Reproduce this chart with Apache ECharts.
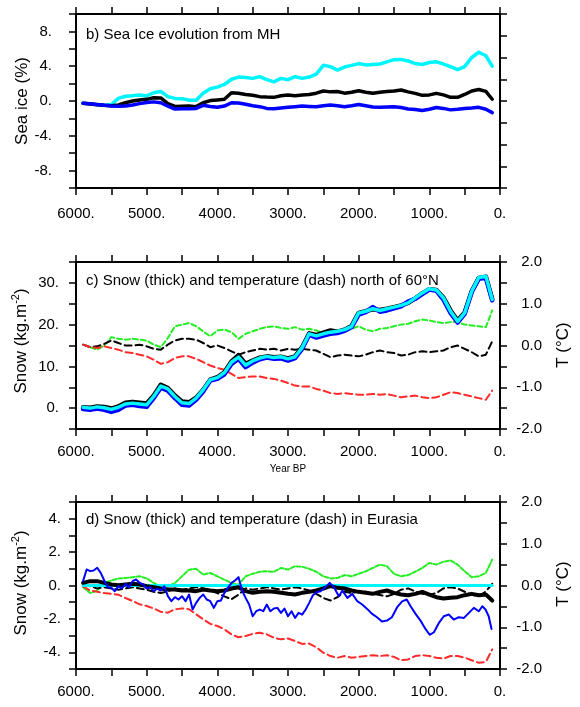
<!DOCTYPE html>
<html>
<head>
<meta charset="utf-8">
<script src="https://cdn.jsdelivr.net/npm/echarts@6/dist/echarts.min.js"></script>
<style>
  html, body { margin: 0; padding: 0; background: #fff; }
  #chart { width: 580px; height: 707px; }
</style>
</head>
<body>
<div id="chart"></div>
<script>
// Time axis (years before present), shared by most curves
const years = [5900, 5800, 5700, 5600, 5500, 5400, 5300, 5200, 5100, 5000,
  4900, 4800, 4700, 4600, 4500, 4400, 4300, 4200, 4100, 4000,
  3900, 3800, 3700, 3600, 3500, 3400, 3300, 3200, 3100, 3000,
  2900, 2800, 2700, 2600, 2500, 2400, 2300, 2200, 2100, 2000,
  1900, 1800, 1700, 1600, 1500, 1400, 1300, 1200, 1100, 1000,
  900, 800, 700, 600, 500, 400, 300, 200, 110];

// b) sea ice anomaly (%)
const seaIceCyan = [-0.27, -0.33, -0.42, -0.5, -0.4, 0.3, 0.55, 0.6, 0.68, 0.58,
  0.95, 1.1, 0.5, 0.3, 0.25, 0.1, 0.1, 0.9, 1.4, 1.6,
  1.9, 2.5, 2.75, 2.7, 2.6, 2.8, 2.45, 2.2, 2.6, 2.45,
  2.8, 2.6, 2.75, 3.1, 4.1, 3.95, 3.55, 3.9, 4.1, 4.3,
  4.15, 4.2, 4.25, 4.5, 4.75, 4.78, 4.6, 4.3, 4.2, 4.42,
  4.5, 4.25, 3.95, 3.6, 3.95, 5.0, 5.6, 5.2, 4.0];
const seaIceBlack = [-0.27, -0.35, -0.42, -0.5, -0.55, -0.45, -0.2, 0.0, 0.12, 0.19,
  0.38, 0.35, -0.3, -0.62, -0.6, -0.58, -0.65, -0.2, 0.05, 0.12,
  0.2, 0.95, 0.9, 0.75, 0.65, 0.5, 0.45, 0.42, 0.6, 0.68,
  0.6, 0.7, 0.75, 0.9, 1.15, 1.05, 1.1, 0.9, 1.0, 1.18,
  1.0, 0.88, 1.0, 1.1, 1.15, 1.27, 1.05, 0.88, 0.65, 0.7,
  0.88, 0.7, 0.42, 0.42, 0.75, 1.15, 1.32, 1.1, 0.2];
const seaIceBlue = [-0.27, -0.32, -0.4, -0.5, -0.58, -0.6, -0.58, -0.45, -0.3, -0.18,
  -0.1, -0.2, -0.6, -0.92, -0.9, -0.88, -0.85, -0.5, -0.62, -0.72,
  -0.58, -0.2, -0.22, -0.38, -0.55, -0.65, -0.85, -0.9, -0.8, -0.72,
  -0.65, -0.58, -0.62, -0.65, -0.55, -0.46, -0.55, -0.65, -0.55, -0.4,
  -0.55, -0.7, -0.72, -0.68, -0.65, -0.75, -0.92, -0.98, -1.1, -0.95,
  -0.75, -0.85, -1.02, -0.95, -0.85, -0.8, -0.73, -0.95, -1.34];

// c) north of 60N: snow (kg m-2) and temperature (degC)
const snowNCyan = [0.2, 0.0, 0.3, 0.1, -0.3, 0.2, 1.0, 1.2, 1.0, 0.8,
  2.8, 5.3, 4.6, 2.8, 1.3, 1.1, 2.4, 4.4, 6.8, 7.3,
  8.5, 11.0, 12.2, 10.3, 11.3, 12.0, 12.4, 12.1, 12.3, 11.8,
  12.3, 14.5, 17.8, 17.3, 17.8, 18.2, 18.4, 18.8, 19.6, 22.8,
  23.2, 23.8, 23.4, 23.8, 24.2, 24.6, 25.2, 26.4, 27.6, 28.6,
  28.3, 26.4, 23.2, 20.8, 22.8, 28.0, 31.3, 31.6, 26.0];
const snowNBlue = [-0.2, -0.4, -0.1, -0.4, -0.9, -0.4, 0.6, 0.8, 0.5, 0.3,
  2.4, 4.9, 4.2, 2.4, 0.8, 0.6, 2.0, 4.0, 6.6, 7.0,
  8.1, 10.6, 11.8, 9.8, 10.9, 11.7, 12.1, 11.8, 11.9, 11.4,
  12.0, 14.2, 17.6, 16.9, 17.4, 17.8, 18.0, 18.5, 19.4, 22.4,
  23.0, 24.2, 23.1, 23.4, 23.9, 24.4, 25.5, 26.2, 27.3, 28.4,
  28.1, 26.0, 22.8, 20.5, 22.6, 27.8, 31.0, 31.2, 25.8];
const snowNBlack = [0.2, 0.1, 0.4, 0.3, -0.1, 0.4, 1.3, 1.5, 1.3, 1.1,
  3.0, 5.6, 4.8, 3.0, 1.6, 1.4, 2.5, 4.4, 6.8, 7.4,
  8.6, 11.2, 12.7, 10.6, 11.4, 12.1, 12.4, 12.2, 12.3, 11.9,
  12.4, 14.6, 17.9, 17.5, 18.1, 18.6, 18.3, 18.8, 19.7, 22.8,
  23.2, 23.7, 23.5, 23.8, 24.2, 24.6, 25.2, 26.3, 27.5, 28.5,
  28.3, 26.5, 23.4, 21.0, 22.9, 28.0, 31.2, 31.5, 26.1];
const tempNGreen = [0.02, -0.04, -0.1, 0.0, 0.2, 0.16, 0.14, 0.16, 0.14, 0.12,
  0.02, -0.04, 0.18, 0.46, 0.5, 0.54, 0.46, 0.34, 0.22, 0.36,
  0.38, 0.32, 0.16, 0.28, 0.34, 0.4, 0.44, 0.46, 0.42, 0.4,
  0.44, 0.38, 0.4, 0.36, 0.3, 0.32, 0.36, 0.32, 0.4, 0.46,
  0.38, 0.34, 0.4, 0.42, 0.46, 0.5, 0.52, 0.58, 0.62, 0.6,
  0.56, 0.54, 0.56, 0.56, 0.5, 0.48, 0.46, 0.44, 0.84];
const tempNBlack = [0.02, -0.04, -0.02, 0.04, 0.12, 0.06, 0.0, 0.0, 0.02, -0.02,
  -0.08, -0.1, 0.02, 0.12, 0.16, 0.16, 0.14, 0.06, -0.04, 0.0,
  -0.06, -0.14, -0.22, -0.16, -0.12, -0.08, -0.1, -0.08, -0.12, -0.08,
  -0.1, -0.08, -0.1, -0.12, -0.2, -0.28, -0.24, -0.22, -0.24, -0.26,
  -0.22, -0.16, -0.12, -0.16, -0.18, -0.24, -0.22, -0.16, -0.14, -0.16,
  -0.14, -0.12, -0.04, 0.0, -0.08, -0.16, -0.26, -0.22, 0.1];
const tempNRed = [0.02, -0.04, -0.06, -0.02, -0.06, -0.1, -0.16, -0.18, -0.22, -0.26,
  -0.34, -0.44, -0.4, -0.3, -0.26, -0.26, -0.32, -0.4, -0.48, -0.54,
  -0.58, -0.68, -0.78, -0.76, -0.74, -0.74, -0.78, -0.8, -0.84, -0.9,
  -0.96, -0.98, -0.98, -1.04, -1.08, -1.14, -1.16, -1.14, -1.16, -1.18,
  -1.18, -1.16, -1.18, -1.16, -1.2, -1.24, -1.22, -1.2, -1.24, -1.26,
  -1.24, -1.18, -1.12, -1.14, -1.18, -1.22, -1.26, -1.3, -1.08];

// d) Eurasia: snow (kg m-2) and temperature (degC)
const snowECyan = [0, 0, 0, 0, 0, 0, 0, 0, 0, 0,
  0, 0, 0, 0, 0, 0, 0, 0, 0, 0,
  0, 0, 0, 0, 0, 0, 0, 0, 0, 0,
  0, 0, 0, 0, 0, 0, 0, 0, 0, 0,
  0, 0, 0, 0, 0, 0, 0, 0, 0, 0,
  0, 0, 0, 0, 0, 0, 0, 0, 0];
const snowEBlack = [0.16, 0.26, 0.26, 0.16, 0.06, 0.02, 0.06, 0.1, 0.06, -0.04,
  -0.1, -0.18, -0.24, -0.24, -0.3, -0.3, -0.34, -0.24, -0.3, -0.34,
  -0.3, -0.18, -0.1, -0.34, -0.44, -0.38, -0.34, -0.38, -0.44, -0.5,
  -0.54, -0.44, -0.38, -0.3, -0.18, -0.04, -0.14, -0.18, -0.3, -0.38,
  -0.44, -0.5, -0.38, -0.3, -0.44, -0.54, -0.58, -0.5, -0.38, -0.54,
  -0.7, -0.78, -0.74, -0.7, -0.58, -0.5, -0.58, -0.54, -0.9];
const snowEBlueYears = [5900, 5850, 5800, 5750, 5700, 5650, 5600, 5550, 5500, 5450,
  5400, 5350, 5300, 5250, 5200, 5150, 5100, 5050, 5000, 4950,
  4900, 4850, 4800, 4750, 4700, 4650, 4600, 4550, 4500, 4450,
  4400, 4350, 4300, 4250, 4200, 4150, 4100, 4050, 4000, 3950,
  3900, 3850, 3800, 3750, 3700, 3650, 3600, 3550, 3500, 3450,
  3400, 3350, 3300, 3250, 3200, 3150, 3100, 3050, 3000, 2950,
  2900, 2850, 2800, 2750, 2700, 2650, 2600, 2540, 2470, 2410,
  2350, 2280, 2230, 2160, 2090, 2020, 1950, 1880, 1810, 1740,
  1670, 1600, 1530, 1455, 1385, 1320, 1265, 1195, 1125, 1055,
  995, 935, 865, 795, 725, 655, 585, 510, 440, 370,
  300, 250, 205, 160, 120];
const snowEBlue = [0.26, 0.96, 0.86, 0.9, 1.06, 0.76, 0.3, -0.1, -0.14, -0.34,
  -0.04, -0.18, 0.1, -0.1, 0.26, 0.36, 0.16, 0.06, -0.18, -0.1,
  -0.34, -0.18, -0.3, -0.04, -0.64, -0.94, -0.7, -0.84, -0.64, -0.94,
  -0.54, -1.44, -1.04, -0.74, -0.54, -0.84, -0.94, -1.34, -0.94, -0.9,
  -0.44, -0.14, 0.16, 0.3, 0.5, -0.3, -0.74, -1.14, -1.84, -1.54,
  -1.44, -1.54, -1.14, -1.54, -1.38, -1.34, -1.64, -1.38, -1.84, -1.54,
  -1.94, -1.64, -1.74, -1.44, -1.04, -0.6, -0.4, -0.34, -0.1, 0.16,
  -0.1, -0.64, -0.3, -0.74, -0.5, -0.94, -1.14, -1.4, -1.7, -1.9,
  -2.15, -2.1, -1.9, -1.3, -0.95, -0.84, -1.24, -1.7, -2.1, -2.6,
  -2.95, -2.8, -2.24, -1.84, -1.74, -2.04, -1.9, -1.94, -1.64, -1.34,
  -1.54, -1.24, -1.44, -1.84, -2.6];
const tempEGreen = [-0.04, -0.18, -0.12, 0.06, 0.12, 0.17, 0.18, 0.2, 0.22, 0.17,
  0.06, -0.02, -0.02, 0.06, 0.22, 0.38, 0.4, 0.26, 0.3, 0.22,
  0.14, 0.06, 0.02, 0.22, 0.28, 0.33, 0.34, 0.33, 0.42, 0.38,
  0.46, 0.45, 0.4, 0.33, 0.22, 0.17, 0.18, 0.25, 0.22, 0.28,
  0.34, 0.42, 0.5, 0.46, 0.28, 0.22, 0.25, 0.33, 0.42, 0.54,
  0.5, 0.57, 0.6, 0.5, 0.34, 0.2, 0.22, 0.3, 0.62];
const tempEBlack = [0.02, -0.02, -0.07, -0.04, -0.07, -0.1, -0.07, -0.04, -0.07, -0.1,
  -0.15, -0.18, -0.14, -0.07, -0.1, -0.07, -0.04, -0.07, -0.12, -0.18,
  -0.26, -0.33, -0.22, -0.07, -0.1, -0.07, -0.04, -0.07, -0.1, -0.07,
  -0.04, -0.07, -0.12, -0.2, -0.3, -0.36, -0.28, -0.15, -0.18, -0.14,
  -0.15, -0.2, -0.23, -0.26, -0.2, -0.1, -0.07, -0.14, -0.2, -0.22,
  -0.18, -0.07, -0.04, -0.07, -0.15, -0.22, -0.26, -0.14, 0.04];
const tempERed = [-0.02, -0.12, -0.15, -0.18, -0.2, -0.22, -0.3, -0.37, -0.45, -0.49,
  -0.55, -0.63, -0.65, -0.57, -0.55, -0.57, -0.69, -0.81, -0.92, -0.97,
  -1.05, -1.17, -1.24, -1.21, -1.16, -1.13, -1.17, -1.25, -1.29, -1.27,
  -1.33, -1.4, -1.39, -1.48, -1.61, -1.69, -1.73, -1.69, -1.73, -1.71,
  -1.69, -1.67, -1.69, -1.67, -1.71, -1.79, -1.77, -1.69, -1.67, -1.69,
  -1.73, -1.75, -1.69, -1.69, -1.73, -1.79, -1.85, -1.83, -1.53];

const FONT = '"Liberation Sans", Arial, Helvetica, sans-serif';
const pairs = (xs, ys) => xs.map((x, i) => [x, ys[i]]);

const chart = echarts.init(document.getElementById('chart'), null, { renderer: 'canvas' });

const frameLine = { show: true, onZero: false, lineStyle: { color: '#000', width: 2 } };
const frameTick = { show: true, inside: false, length: 7, lineStyle: { color: '#000', width: 1.5 } };
const labelStyle = { color: '#000', fontSize: 15, fontFamily: FONT };

function yearAxes(grid, margin) {
  return [
    {
      type: 'value', gridIndex: grid, position: 'bottom', inverse: true,
      min: 0, max: 6000, interval: 500,
      axisLine: frameLine, axisTick: frameTick, splitLine: { show: false },
      axisLabel: Object.assign({}, labelStyle, {
        margin: margin, showMinLabel: true, showMaxLabel: true,
        formatter: v => (v % 1000 === 0 ? v + '.' : '')
      })
    },
    {
      type: 'value', gridIndex: grid, position: 'top', inverse: true,
      min: 0, max: 6000, interval: 500,
      axisLine: frameLine, axisTick: frameTick, splitLine: { show: false },
      axisLabel: { show: false }
    }
  ];
}

function leftAxis(grid, min, max, step, labelled, margin) {
  return {
    type: 'value', gridIndex: grid, position: 'left', min: min, max: max, interval: step,
    axisLine: frameLine, axisTick: frameTick, splitLine: { show: false },
    axisLabel: Object.assign({}, labelStyle, {
      margin: margin, showMinLabel: true, showMaxLabel: true,
      formatter: v => (labelled(v) ? v + '.' : '')
    })
  };
}

function rightAxis(grid, withLabels) {
  return {
    type: 'value', gridIndex: grid, position: 'right', min: -2, max: 2, interval: 0.5,
    axisLine: frameLine, axisTick: frameTick, splitLine: { show: false },
    axisLabel: withLabels ? Object.assign({}, labelStyle, {
      margin: 42, align: 'right', showMinLabel: true, showMaxLabel: true,
      formatter: v => (Math.abs(v % 1) < 1e-9 ? v.toFixed(1) : '')
    }) : { show: false }
  };
}

function line(xi, yi, data, color, width, dash) {
  return {
    type: 'line', xAxisIndex: xi, yAxisIndex: yi, data: data,
    showSymbol: false, symbol: 'none', animation: false, silent: true,
    lineStyle: { color: color, width: width, type: dash || 'solid', cap: 'round', join: 'round' }
  };
}

const CYAN = '#00f5ff', BLUE = '#0000ff', BLACK = '#000000', GREEN = '#22ee22', RED = '#ff2a2a';

const option = {
  backgroundColor: '#ffffff',
  animation: false,
  grid: [
    { left: 76, width: 424, top: 14, height: 174, containLabel: false, outerBoundsMode: 'none' },
    { left: 76, width: 424, top: 262, height: 167, containLabel: false, outerBoundsMode: 'none' },
    { left: 76, width: 424, top: 502, height: 167, containLabel: false, outerBoundsMode: 'none' }
  ],
  xAxis: [].concat(yearAxes(0, 18), yearAxes(1, 15), yearAxes(2, 15)),
  yAxis: [
    leftAxis(0, -10, 10, 2, v => v % 4 === 0 && Math.abs(v) < 10, 24),
    rightAxis(0, false),
    leftAxis(1, -5, 35, 5, v => v % 10 === 0 && v >= 0 && v <= 30, 17),
    rightAxis(1, true),
    leftAxis(2, -5, 5, 1, v => v % 2 === 0 && Math.abs(v) < 5, 15),
    rightAxis(2, true)
  ],
  series: [
    // b) sea ice
    line(0, 0, pairs(years, seaIceCyan), CYAN, 3.5),
    line(0, 0, pairs(years, seaIceBlack), BLACK, 3.5),
    line(0, 0, pairs(years, seaIceBlue), BLUE, 3.5),
    // c) temperature (dashed, right axis) then snow (thick, left axis)
    line(2, 3, pairs(years, tempNGreen), GREEN, 2, [5, 3]),
    line(2, 3, pairs(years, tempNBlack), BLACK, 2, [7, 4]),
    line(2, 3, pairs(years, tempNRed), RED, 2, [7, 4]),
    line(2, 2, pairs(years, snowNBlack), BLACK, 4.5),
    line(2, 2, pairs(years, snowNBlue), BLUE, 4.5),
    line(2, 2, pairs(years, snowNCyan), CYAN, 3.5),
    // d) temperature (dashed, right axis) then snow (left axis)
    line(4, 5, pairs(years, tempEGreen), GREEN, 2, [4, 2]),
    line(4, 5, pairs(years, tempEBlack), BLACK, 2, [7, 4]),
    line(4, 5, pairs(years, tempERed), RED, 2, [7, 4]),
    line(4, 4, pairs(years, snowECyan), CYAN, 3),
    line(4, 4, pairs(years, snowEBlack), BLACK, 4),
    line(4, 4, pairs(snowEBlueYears, snowEBlue), BLUE, 2)
  ],
  graphic: [
    { type: 'text', x: 86, y: 35, silent: true,
      style: { text: 'b) Sea Ice evolution from MH', fill: '#000', font: '15px ' + FONT, textVerticalAlign: 'middle' } },
    { type: 'text', x: 86, y: 281, silent: true,
      style: { text: 'c) Snow (thick) and temperature (dash) north of 60°N', fill: '#000', font: '15px ' + FONT, textVerticalAlign: 'middle' } },
    { type: 'text', x: 86, y: 520, silent: true,
      style: { text: 'd) Snow (thick) and temperature (dash) in Eurasia', fill: '#000', font: '15px ' + FONT, textVerticalAlign: 'middle' } },
    { type: 'text', x: 288, y: 469, silent: true,
      style: { text: 'Year BP', fill: '#000', font: '10px ' + FONT, textAlign: 'center', textVerticalAlign: 'middle' } },
    { type: 'text', x: 22, y: 101, rotation: Math.PI / 2, silent: true,
      style: { text: 'Sea ice (%)', fill: '#000', font: '17px ' + FONT, textAlign: 'center', textVerticalAlign: 'middle' } },
    { type: 'text', x: 20, y: 341, rotation: Math.PI / 2, silent: true,
      style: { text: '{a|Snow (kg.m}{s|-2}{a|)}', fill: '#000', textAlign: 'center', textVerticalAlign: 'middle',
        rich: { a: { fontSize: 17, fontFamily: FONT, lineHeight: 20, verticalAlign: 'bottom' },
                s: { fontSize: 11, fontFamily: FONT, lineHeight: 20, verticalAlign: 'top' } } } },
    { type: 'text', x: 20, y: 583, rotation: Math.PI / 2, silent: true,
      style: { text: '{a|Snow (kg.m}{s|-2}{a|)}', fill: '#000', textAlign: 'center', textVerticalAlign: 'middle',
        rich: { a: { fontSize: 17, fontFamily: FONT, lineHeight: 20, verticalAlign: 'bottom' },
                s: { fontSize: 11, fontFamily: FONT, lineHeight: 20, verticalAlign: 'top' } } } },
    { type: 'text', x: 563, y: 345, rotation: Math.PI / 2, silent: true,
      style: { text: 'T (°C)', fill: '#000', font: '17px ' + FONT, textAlign: 'center', textVerticalAlign: 'middle' } },
    { type: 'text', x: 563, y: 584, rotation: Math.PI / 2, silent: true,
      style: { text: 'T (°C)', fill: '#000', font: '17px ' + FONT, textAlign: 'center', textVerticalAlign: 'middle' } }
  ]
};

chart.setOption(option);
</script>
</body>
</html>
